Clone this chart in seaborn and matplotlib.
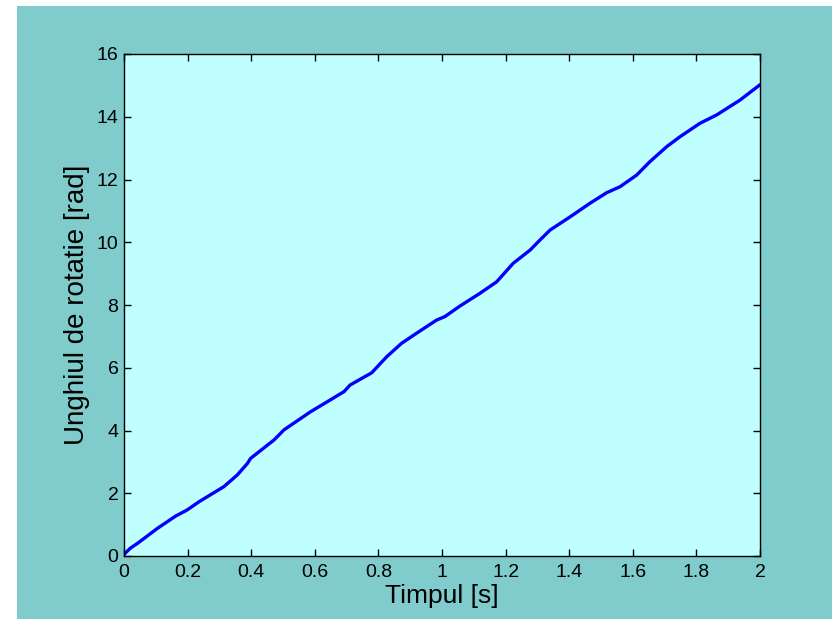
import numpy as np
import pandas as pd
import matplotlib
matplotlib.use("Agg")
import matplotlib.pyplot as plt
from matplotlib.patches import Rectangle
import seaborn as sns

# values
timp = [0.0, 0.02, 0.042, 0.105, 0.162, 0.199, 0.236, 0.314, 0.356, 0.388, 0.398,
        0.472, 0.503, 0.587, 0.648, 0.692, 0.711, 0.779, 0.826, 0.873, 0.920,
        0.983, 1.009, 1.057, 1.119, 1.172, 1.224, 1.277, 1.308, 1.340, 1.403,
        1.465, 1.518, 1.560, 1.612, 1.654, 1.707, 1.748, 1.811, 1.864, 1.937, 2.0]
unghi = [0.05, 0.25, 0.40, 0.88, 1.27, 1.47, 1.73, 2.21, 2.58, 2.95, 3.11,
         3.70, 4.02, 4.60, 4.97, 5.24, 5.45, 5.84, 6.35, 6.78, 7.10,
         7.52, 7.63, 7.97, 8.37, 8.74, 9.33, 9.75, 10.07, 10.39, 10.81,
         11.24, 11.58, 11.77, 12.14, 12.57, 13.05, 13.36, 13.79, 14.06, 14.53, 15.02]

xticks = [0, 0.2, 0.4, 0.6, 0.8, 1, 1.2, 1.4, 1.6, 1.8, 2]
xticklabels = ['0', '0.2', '0.4', '0.6', '0.8', '1', '1.2', '1.4', '1.6', '1.8', '2']
yticks = [0, 2, 4, 6, 8, 10, 12, 14, 16]

df = pd.DataFrame({'Timpul': timp, 'Unghi': unghi})

sns.set_style("ticks")
plt.rcParams['font.family'] = ['Liberation Sans', 'DejaVu Sans']

fig = plt.figure(figsize=(8.32, 6.19), dpi=100, facecolor='white')
# teal panel (slide-like frame) drawn behind everything
fig.patches.append(Rectangle((17 / 832, 0), 1 - 17 / 832, 1 - 6 / 619,
                             transform=fig.transFigure, facecolor='#80CCCC',
                             edgecolor='none', zorder=-10))

ax = fig.add_axes([124 / 832, 1 - 556 / 619, (760 - 124) / 832, (556 - 54) / 619])
ax.set_facecolor('#C0FFFF')

sns.lineplot(data=df, x='Timpul', y='Unghi', ax=ax, color='#0000FF', linewidth=2.4)

ax.set_xlim(0, 2)
ax.set_ylim(0, 16)
ax.set_xticks(xticks)
ax.set_xticklabels(xticklabels)
ax.set_yticks(yticks)
ax.tick_params(direction='in', length=5, width=1, labelsize=14, colors='black',
               top=True, right=True)
ax.tick_params(axis='y', pad=4)
ax.tick_params(axis='x', pad=6)
for s in ax.spines.values():
    s.set_visible(True)
    s.set_color('black')
    s.set_linewidth(1)

ax.set_xlabel('Timpul [s]', fontsize=19, color='black', labelpad=2)
ax.set_ylabel('Unghiul de rotatie [rad]', fontsize=20, color='black', labelpad=5)

fig.savefig('out.png', dpi=100, facecolor=fig.get_facecolor())
